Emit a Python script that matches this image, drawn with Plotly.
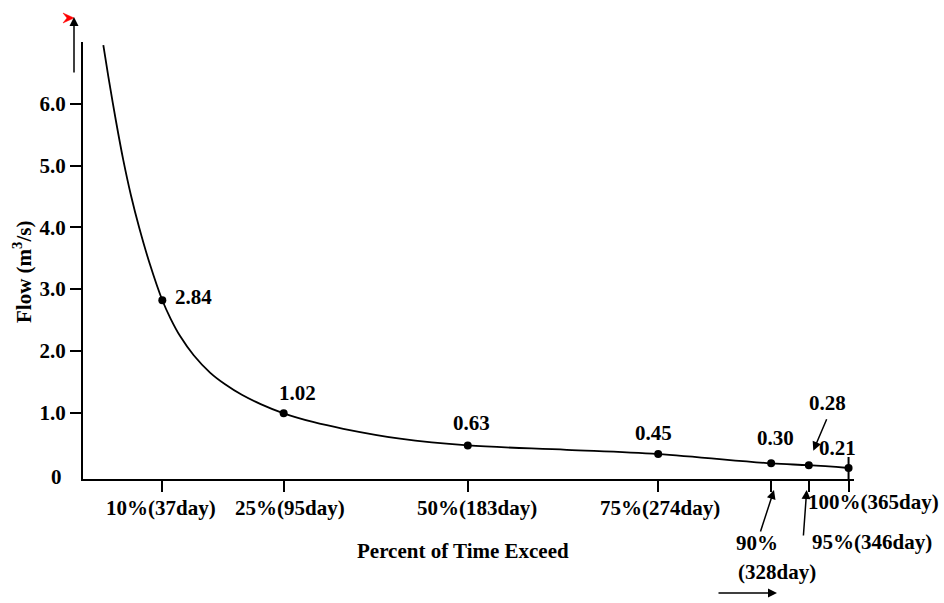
import plotly.graph_objects as go

# ---- data ----
curve_days = [8.8, 11.2, 14.8, 18.4, 22.0, 26.0, 31.0, 37, 41, 45.5, 52, 59.8, 67, 75, 84, 95,
              109, 123.5, 150.6, 183, 230.3, 274, 328, 346, 365]
curve_flow = [6.95, 6.44, 5.73, 5.08, 4.52, 3.99, 3.41, 2.82, 2.52, 2.24, 1.93, 1.65, 1.46, 1.29,
              1.14, 0.99, 0.85, 0.74, 0.58, 0.47, 0.40, 0.33, 0.18, 0.15, 0.105]

point_days = [37, 95, 183, 274, 328, 346, 365]
point_flow = [2.82, 0.99, 0.47, 0.33, 0.18, 0.15, 0.105]
point_labels = ["2.84", "1.02", "0.63", "0.45", "0.30", "0.28", "0.21"]

x_tick_labels = ["10%(37day)", "25%(95day)", "50%(183day)", "75%(274day)",
                 "90%", "(328day)", "95%(346day)", "100%(365day)"]
y_tick_vals = [1, 2, 3, 4, 5, 6]
y_tick_text = ["1.0", "2.0", "3.0", "4.0", "5.0", "6.0"]

W, H = 944, 603
L, R, T, B = 83, 90, 42, 124
PW, PH = W - L - R, H - T - B


def xp(px):
    return (px - L) / PW


def yp(py):
    return (H - B - py) / PH


FONT = "Liberation Serif, Times New Roman, serif"
fnt = dict(family=FONT, size=21, color="black", weight="bold")

fig = go.Figure()
fig.add_trace(go.Scatter(x=curve_days, y=curve_flow, mode="lines",
                         line=dict(color="black", width=1.8, shape="spline", smoothing=1.0),
                         hoverinfo="skip", showlegend=False))
fig.add_trace(go.Scatter(x=point_days, y=point_flow, mode="markers",
                         marker=dict(color="black", size=8), hoverinfo="skip", showlegend=False))

annotations = []
# point labels (offsets in pixels)
label_shift = [(11, 3.5, "left"), (14, 20, "center"), (4, 22, "center"), (-5, 21, "center"),
               (4, 25, "center"), (19, 62, "center"), (-11, 20, "center")]
for d, f, t, (dx, dy, anc) in zip(point_days, point_flow, point_labels, label_shift):
    annotations.append(dict(x=d, y=f, xref="x", yref="y", text=t, showarrow=False,
                            xanchor=anc, yanchor="middle", xshift=dx, yshift=dy, font=fnt))

# x tick labels
tick_pos = [(160.5, 508, "center"), (290, 508, "center"), (477, 508, "center"), (660, 508, "center"),
            (757, 543, "center"), (776.7, 572, "center"), (810, 542, "left"), (874, 502, "center")]
for t, (px, py, anc) in zip(x_tick_labels, tick_pos):
    annotations.append(dict(x=xp(px), y=yp(py), xref="paper", yref="paper", text=t,
                            showarrow=False, xanchor=anc, yanchor="middle", font=fnt))

# y "0" label
annotations.append(dict(x=xp(64), y=yp(477), xref="paper", yref="paper", text="0",
                        showarrow=False, xanchor="right", yanchor="middle", font=fnt))
# axis titles
annotations.append(dict(x=xp(462.5), y=yp(551), xref="paper", yref="paper",
                        text="Percent of Time Exceed", showarrow=False,
                        xanchor="center", yanchor="middle", font=fnt))
annotations.append(dict(x=xp(22), y=yp(272), xref="paper", yref="paper",
                        text="Flow (m<sup>3</sup>/s)", showarrow=False, textangle=-90,
                        xanchor="center", yanchor="middle", font=fnt))

# arrows (head px, tail offset px)
arrows = [((813.3, 450.7), (14, -33)), ((774, 490), (-14, 43)), ((806.7, 490), (-3.4, 47)),
          ((74, 17), (0, 57)), ((777, 593), (-60, 0))]
for (hx, hy), (ax, ay) in arrows:
    annotations.append(dict(x=xp(hx), y=yp(hy), xref="paper", yref="paper", text="",
                            showarrow=True, arrowhead=2, arrowsize=1.2, arrowwidth=1.5,
                            arrowcolor="black", ax=ax, ay=ay))

shapes = []
# vertical line at 100%
shapes.append(dict(type="line", xref="x", yref="paper", x0=point_days[-1], x1=point_days[-1],
                   y0=0, y1=yp(457), line=dict(color="black", width=2)))
# small red arrowhead at top-left
pts = [(63, 13), (74, 18), (63, 23), (67, 18)]
path = "M " + " L ".join(f"{xp(a):.5f},{yp(b):.5f}" for a, b in pts) + " Z"
shapes.append(dict(type="path", xref="paper", yref="paper", path=path,
                   fillcolor="red", line=dict(color="red", width=0.5)))

fig.update_layout(
    width=W, height=H,
    margin=dict(l=L, r=R, t=T, b=B, pad=0),
    paper_bgcolor="white", plot_bgcolor="white",
    font=fnt,
    showlegend=False,
    hovermode=False,
    annotations=annotations,
    shapes=shapes,
    xaxis=dict(range=[-0.91, 367.6], showgrid=False, zeroline=False,
               showline=True, linecolor="black", linewidth=2,
               ticks="outside", ticklen=11, tickwidth=1.5, tickcolor="black",
               tickvals=point_days, showticklabels=False),
    yaxis=dict(range=[-0.073, 7.0], showgrid=False, zeroline=False,
               showline=True, linecolor="black", linewidth=2,
               ticks="outside", ticklen=11, tickwidth=1.5, tickcolor="black",
               tickvals=y_tick_vals, ticktext=y_tick_text, tickfont=fnt),
)

fig.write_html("out.html", config={"displayModeBar": False},
               post_script="document.body.style.margin='0px';document.body.style.overflow='hidden';")
